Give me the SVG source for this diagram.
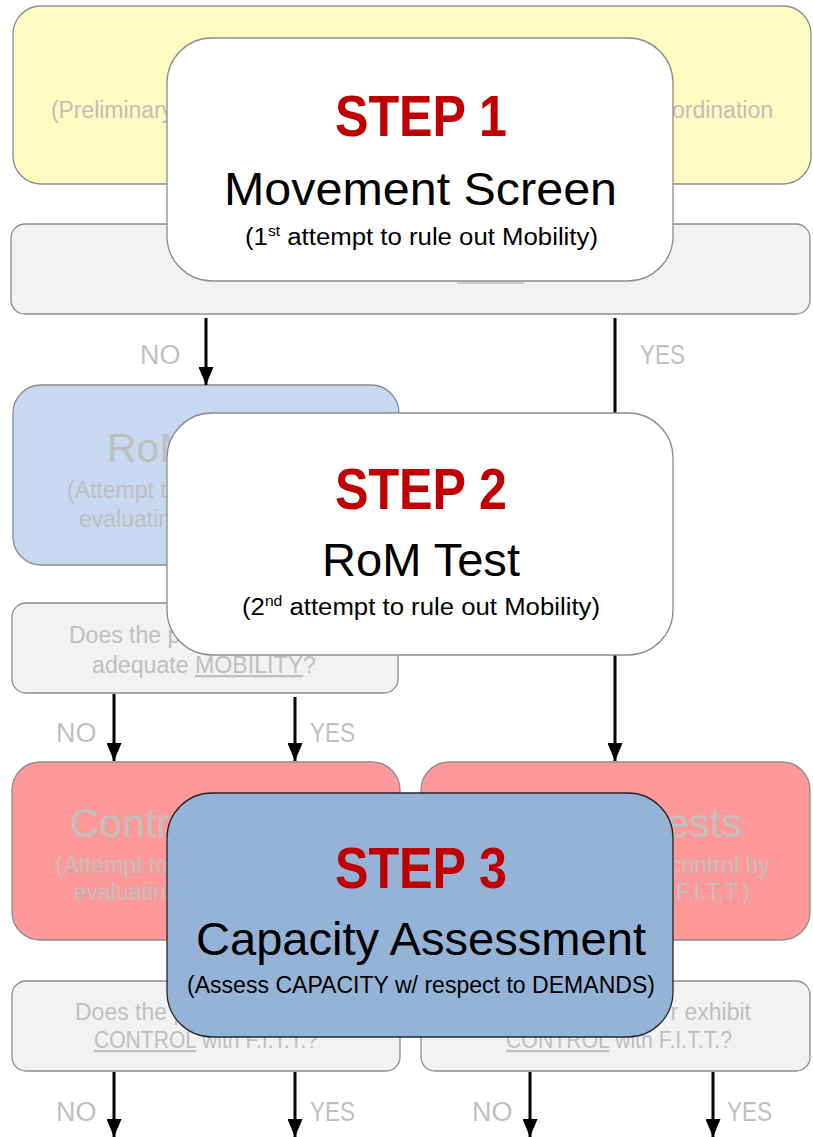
<svg xmlns="http://www.w3.org/2000/svg" width="813" height="1137" viewBox="0 0 813 1137">
<defs>
<marker id="ah" markerUnits="userSpaceOnUse" markerWidth="18" markerHeight="15" refX="18" refY="7.5" orient="auto">
<path d="M0,0 L18,7.5 L0,15 z" fill="#000"/>
</marker>
<style>
text{font-family:"Liberation Sans",Arial,sans-serif}
.bg{stroke:#8c8c8c;stroke-width:1.3}
.yel{fill:#fcfbc0}
.gry{fill:#f2f2f2}
.blu{fill:#c6d9f0}
.red{fill:#ff9999}
.faint{fill:#bfbfbf;font-size:23px}
.big{fill:#bfbfbf;font-size:41px}
.lbl{fill:#bfbfbf;font-size:27px}
.ul{stroke:#bfbfbf;stroke-width:1.5}
.step{fill:#fff;stroke:#8c8c8c;stroke-width:1.3}
.step3{fill:#95b3d7;stroke:#262626;stroke-width:1.3}
.sn{fill:#c00000;font-size:58px;font-weight:bold}
.title{fill:#000;font-size:46px}
.sub{fill:#000;font-size:23px}
.conn{stroke:#000;stroke-width:3;fill:none;marker-end:url(#ah)}
</style>
</defs>

<g id="prelim">
<rect class="bg yel" x="13" y="6" width="798" height="178" rx="28"/>
<text class="faint" x="51" y="118" textLength="122" lengthAdjust="spacingAndGlyphs">(Preliminary</text>
<text class="faint" x="773" y="118" text-anchor="end">ordination</text>
</g>

<g id="question1">
<rect class="bg gry" x="11" y="224" width="799" height="90" rx="14"/>
<line class="ul" x1="457" y1="283" x2="524" y2="283"/>
</g>

<g id="rom-tests">
<rect class="bg blu" x="13" y="385" width="386" height="180" rx="28"/>
<text class="big" x="107" y="462">RoM</text>
<text class="faint" x="67" y="498">(Attempt to</text>
<text class="faint" x="79" y="527">evaluating</text>
</g>

<g id="question2">
<rect class="bg gry" x="12" y="603" width="386" height="90" rx="14"/>
<text class="faint" x="69" y="643">Does the p</text>
<text class="faint" x="92" y="673" textLength="224" lengthAdjust="spacingAndGlyphs">adequate <tspan text-decoration="underline">MOBILITY</tspan>?</text>
</g>

<g id="control-left">
<rect class="bg red" x="12" y="762" width="388" height="178" rx="28"/>
<text class="big" x="70" y="837">Contr</text>
<text class="faint" x="56" y="873">(Attempt to</text>
<text class="faint" x="74" y="900">evaluating</text>
</g>

<g id="control-right">
<rect class="bg red" x="421" y="762" width="389" height="178" rx="28"/>
<text class="big" x="742" y="837" text-anchor="end">ests</text>
<text class="faint" x="770" y="873" text-anchor="end">control by</text>
<text class="faint" x="750" y="900" text-anchor="end">F.I.T.T.)</text>
</g>

<g id="question3-left">
<rect class="bg gry" x="12" y="981" width="388" height="90" rx="14"/>
<text class="faint" x="75" y="1020">Does the p</text>
<text class="faint" x="94" y="1048" textLength="224" lengthAdjust="spacingAndGlyphs"><tspan text-decoration="underline">CONTROL</tspan> with F.I.T.T.?</text>
</g>

<g id="question3-right">
<rect class="bg gry" x="421" y="981" width="389" height="90" rx="14"/>
<text class="faint" x="751" y="1020" text-anchor="end">r exhibit</text>
<text class="faint" x="506" y="1048" textLength="226" lengthAdjust="spacingAndGlyphs"><tspan text-decoration="underline">CONTROL</tspan> with F.I.T.T.?</text>
</g>

<g id="connectors">
<line class="conn" x1="206" y1="318" x2="206" y2="385"/>
<line class="conn" x1="615" y1="318" x2="615" y2="761"/>
<line class="conn" x1="114" y1="694" x2="114" y2="761"/>
<line class="conn" x1="295" y1="697" x2="295" y2="761"/>
<line class="conn" x1="114" y1="1072" x2="114" y2="1137"/>
<line class="conn" x1="295" y1="1072" x2="295" y2="1137"/>
<line class="conn" x1="530" y1="1072" x2="530" y2="1137"/>
<line class="conn" x1="713" y1="1072" x2="713" y2="1137"/>
<text class="lbl" x="140" y="364">NO</text>
<text class="lbl" x="640" y="364" textLength="45" lengthAdjust="spacingAndGlyphs">YES</text>
<text class="lbl" x="56" y="742">NO</text>
<text class="lbl" x="310" y="742" textLength="45" lengthAdjust="spacingAndGlyphs">YES</text>
<text class="lbl" x="56" y="1121">NO</text>
<text class="lbl" x="310" y="1121" textLength="45" lengthAdjust="spacingAndGlyphs">YES</text>
<text class="lbl" x="472" y="1121">NO</text>
<text class="lbl" x="727" y="1121" textLength="45" lengthAdjust="spacingAndGlyphs">YES</text>
</g>

<g id="step1">
<rect class="step" x="167" y="38" width="506" height="243" rx="45"/>
<text class="sn" x="335" y="136" textLength="172" lengthAdjust="spacingAndGlyphs">STEP 1</text>
<text class="title" x="224" y="205" textLength="393" lengthAdjust="spacingAndGlyphs">Movement Screen</text>
<text class="sub" x="245" y="245" textLength="353" lengthAdjust="spacingAndGlyphs">(1<tspan font-size="14" dy="-9">st</tspan><tspan dy="9"> attempt to rule out Mobility)</tspan></text>
</g>

<g id="step2">
<rect class="step" x="167" y="413" width="506" height="242" rx="45"/>
<text class="sn" x="335" y="509" textLength="172" lengthAdjust="spacingAndGlyphs">STEP 2</text>
<text class="title" x="322" y="576" textLength="198" lengthAdjust="spacingAndGlyphs">RoM Test</text>
<text class="sub" x="242" y="615" textLength="358" lengthAdjust="spacingAndGlyphs">(2<tspan font-size="14" dy="-9">nd</tspan><tspan dy="9"> attempt to rule out Mobility)</tspan></text>
</g>

<g id="step3">
<rect class="step3" x="167" y="793" width="506" height="244" rx="45"/>
<text class="sn" x="335" y="888" textLength="172" lengthAdjust="spacingAndGlyphs">STEP 3</text>
<text class="title" x="196" y="955" textLength="450" lengthAdjust="spacingAndGlyphs">Capacity Assessment</text>
<text class="sub" x="187" y="993" textLength="468" lengthAdjust="spacingAndGlyphs">(Assess CAPACITY w/ respect to DEMANDS)</text>
</g>
</svg>
